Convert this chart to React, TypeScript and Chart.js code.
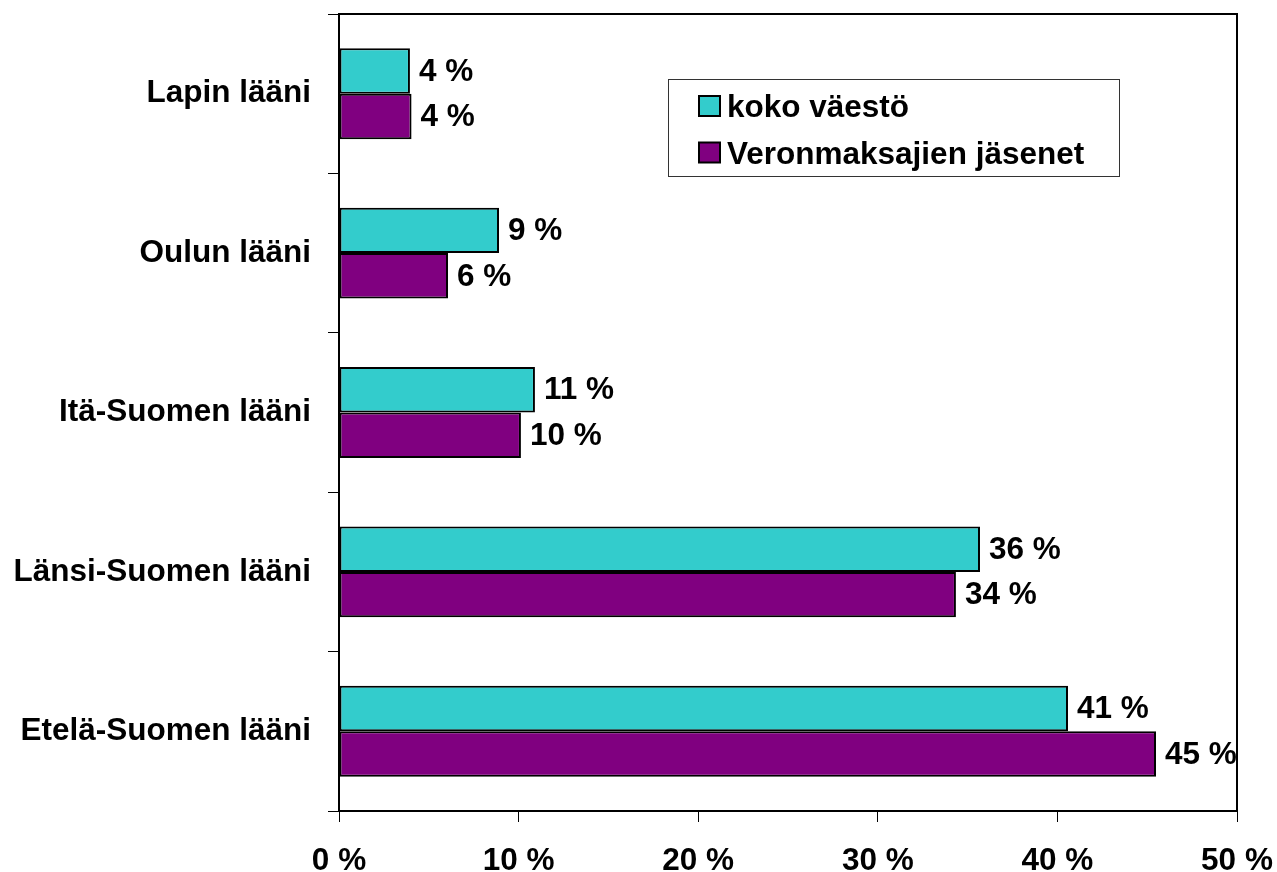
import React, { useEffect, useRef } from "react";
import { Chart, registerables } from "chart.js";

Chart.register(...registerables);

const categories = [
  "Lapin lääni",
  "Oulun lääni",
  "Itä-Suomen lääni",
  "Länsi-Suomen lääni",
  "Etelä-Suomen lääni",
];
const seriesNames = ["koko väestö", "Veronmaksajien jäsenet"];
const kokoVaesto = [3.95, 8.91, 10.91, 35.69, 40.59];
const veronmaksajat = [4.04, 6.07, 10.13, 34.35, 45.49];
const xTicks = [0, 10, 20, 30, 40, 50];
const colors = ["#33CCCC", "#800080"];

const FONT = "'Liberation Sans', Arial, sans-serif";
const FS = 31.5;

const zeroPad = (scale: any) => {
  scale.paddingLeft = 0;
  scale.paddingRight = 0;
  scale.paddingTop = 0;
  scale.paddingBottom = 0;
};

const frameAndLabels = {
  id: "frameAndLabels",
  afterDatasetsDraw(chart: any) {
    const ctx = chart.ctx;
    const a = chart.chartArea;
    ctx.save();
    ctx.strokeStyle = "#000";
    ctx.lineWidth = 2;
    ctx.beginPath();
    ctx.moveTo(a.left, a.top);
    ctx.lineTo(a.right, a.top);
    ctx.lineTo(a.right, a.bottom);
    ctx.stroke();
    ctx.font = `bold ${FS}px ${FONT}`;
    ctx.fillStyle = "#000";
    ctx.textAlign = "left";
    ctx.textBaseline = "middle";
    chart.data.datasets.forEach((ds: any, di: number) => {
      const meta = chart.getDatasetMeta(di);
      meta.data.forEach((el: any, i: number) => {
        const v = ds.data[i];
        ctx.fillText(`${Math.round(v)} %`, el.x + 9, el.y + 1);
      });
    });
    // legend
    const lx = 668, ly = 79, lw = 451, lh = 97;
    ctx.lineWidth = 1;
    ctx.strokeStyle = "#333";
    ctx.fillStyle = "#fff";
    ctx.fillRect(lx, ly, lw, lh);
    ctx.strokeRect(lx + 0.5, ly + 0.5, lw, lh);
    const rows = [106, 152.5];
    chart.data.datasets.forEach((ds: any, di: number) => {
      const cy = rows[di];
      ctx.fillStyle = ds.backgroundColor;
      ctx.fillRect(699, cy - 10, 21, 20);
      ctx.lineWidth = 2;
      ctx.strokeStyle = "#000";
      ctx.strokeRect(699, cy - 10, 21, 20);
      ctx.fillStyle = "#000";
      ctx.textAlign = "left";
      ctx.textBaseline = "alphabetic";
      ctx.fillText(ds.label, 727, cy + 11);
    });
    ctx.restore();
  },
};

export default function App() {
  const ref = useRef<HTMLCanvasElement>(null);
  useEffect(() => {
    if (!ref.current) return;
    const chart = new Chart(ref.current, {
      type: "bar",
      data: {
        labels: categories,
        datasets: [
          {
            label: seriesNames[0],
            data: kokoVaesto,
            backgroundColor: colors[0],
            borderColor: "#000",
            borderWidth: 2,
            borderSkipped: false,
          },
          {
            label: seriesNames[1],
            data: veronmaksajat,
            backgroundColor: colors[1],
            borderColor: "#000",
            borderWidth: 2,
            borderSkipped: false,
          },
        ],
      },
      options: {
        indexAxis: "y",
        responsive: false,
        animation: false,
        devicePixelRatio: 1,
        layout: { padding: { top: 14, right: 40, left: 0, bottom: 0 } },
        datasets: { bar: { categoryPercentage: 0.57, barPercentage: 1 } },
        plugins: { legend: { display: false }, tooltip: { enabled: false } },
        scales: {
          x: {
            min: 0,
            max: 50,
            afterBuildTicks(scale: any) {
              scale.ticks = xTicks.map((v) => ({ value: v }));
            },
            afterFit(scale: any) {
              scale.height = 61;
              zeroPad(scale);
            },
            ticks: {
              callback: (v: any) => `${v} %`,
              color: "#000",
              font: { family: FONT, size: FS, weight: "bold" },
              padding: 20,
              maxRotation: 0,
            },
            grid: {
              drawOnChartArea: false,
              drawTicks: true,
              tickLength: 11,
              color: "#000",
              lineWidth: 1,
            },
            border: { display: true, color: "#000", width: 2 },
          },
          y: {
            type: "category",
            afterFit(scale: any) {
              scale.width = 339;
              zeroPad(scale);
            },
            ticks: {
              color: "#000",
              font: { family: FONT, size: FS, weight: "bold" },
              padding: 17,
            },
            grid: {
              offset: true,
              drawOnChartArea: false,
              drawTicks: true,
              tickLength: 11,
              color: "#000",
              lineWidth: 1,
            },
            border: { display: true, color: "#000", width: 2 },
          },
        },
      } as any,
      plugins: [frameAndLabels],
    });
    return () => chart.destroy();
  }, []);
  return (
    <div style={{ position: "absolute", left: 0, top: 0, width: 1277, height: 872, background: "#fff" }}>
      <canvas ref={ref} width={1277} height={872} style={{ width: 1277, height: 872 }} />
    </div>
  );
}
